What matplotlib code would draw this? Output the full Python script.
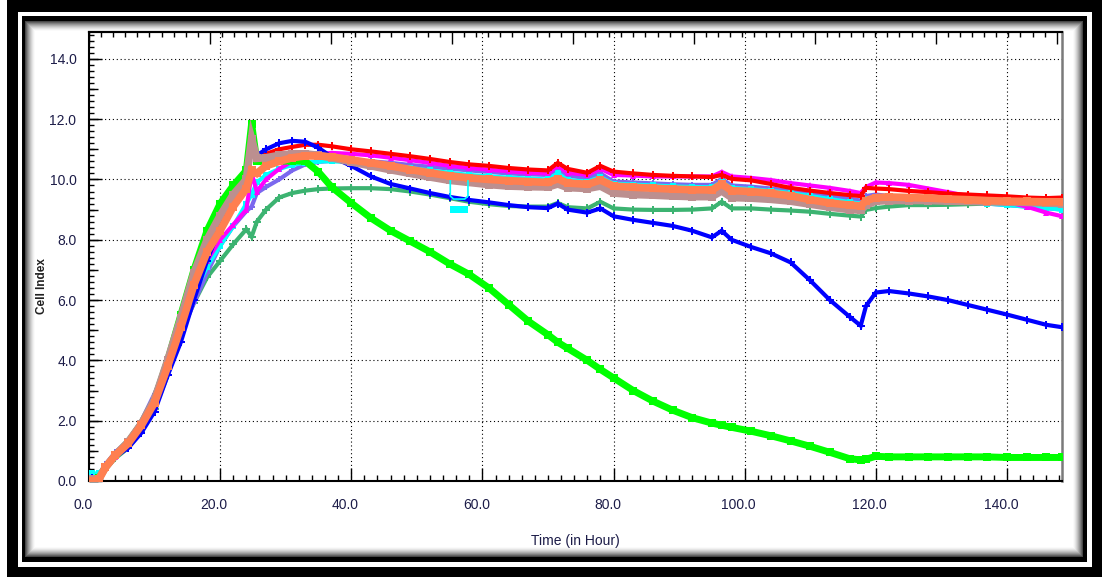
import numpy as np
import matplotlib
matplotlib.use("Agg")
import matplotlib.pyplot as plt
from matplotlib.ticker import MultipleLocator, FormatStrFormatter, NullFormatter, NullLocator
from matplotlib import transforms

# ---------------- data ----------------
hours = [0.5, 1.5, 2.5, 4, 6, 8, 10, 12, 14, 16,
         18, 20, 22, 24, 24.8, 25.6, 27, 29, 31, 33,
         35, 37, 40, 43, 46, 49, 52, 55, 58, 61,
         64, 67, 70, 71.5, 73, 76, 78, 80, 83, 86,
         89, 92, 95, 96.5, 98, 101, 104, 107, 110, 113,
         116, 117.7, 118.5, 120, 122, 125, 128, 131, 134, 137,
         140, 143, 146, 148.4]

ci_seagreen = [0.0, 0.05, 0.4, 0.75, 1.1, 1.65, 2.4, 3.5, 4.9, 5.9,
               6.75, 7.3, 7.85, 8.35, 8.1, 8.6, 9.0, 9.4, 9.55, 9.63,
               9.68, 9.7, 9.71, 9.71, 9.68, 9.6, 9.5, 9.38, 9.26, 9.18,
               9.12, 9.1, 9.1, 9.22, 9.08, 9.04, 9.26, 9.04, 9.0, 8.99,
               8.99, 9.0, 9.04, 9.26, 9.04, 9.04, 9.0, 8.97, 8.93, 8.86,
               8.8, 8.77, 8.99, 9.05, 9.1, 9.15, 9.15, 9.16, 9.18, 9.2,
               9.2, 9.22, 9.24, 9.26]

ci_slate = [0.1, 0.2, 0.55, 0.95, 1.35, 2.0, 2.9, 3.9, 4.9, 5.9,
            6.9, 7.8, 8.45, 8.95, 9.1, 9.55, 9.75, 10.0, 10.3, 10.5,
            10.58, 10.62, 10.63, 10.6, 10.55, 10.48, 10.42, 10.36, 10.3, 10.25,
            10.2, 10.17, 10.15, 10.35, 10.12, 10.05, 10.2, 9.93, 9.9, 9.87,
            9.84, 9.82, 9.82, 10.02, 9.8, 9.76, 9.7, 9.62, 9.52, 9.44,
            9.36, 9.3, 9.45, 9.5, 9.45, 9.4, 9.35, 9.3, 9.25, 9.2,
            9.15, 9.1, 9.05, 9.0]

ci_cyan = [0.25, 0.25, 0.5, 0.9, 1.25, 1.85, 2.6, 3.7, 5.0, 6.2,
           7.1, 7.8, 8.45, 9.2, 9.5, 9.9, 10.15, 10.35, 10.48, 10.56,
           10.6, 10.6, 10.58, 10.52, 10.45, 10.38, 10.3, 10.22, 10.15, 10.1,
           10.06, 10.03, 10.0, 10.2, 9.98, 9.93, 10.08, 9.86, 9.83, 9.8,
           9.77, 9.75, 9.74, 9.92, 9.72, 9.68, 9.62, 9.55, 9.45, 9.35,
           9.25, 9.2, 9.35, 9.42, 9.4, 9.36, 9.32, 9.28, 9.24, 9.2,
           9.15, 9.1, 9.05, 9.0]

ci_magenta = [0.05, 0.12, 0.45, 0.8, 1.15, 1.7, 2.45, 3.6, 5.3, 6.4,
              7.3, 8.0, 8.5, 9.0, 10.2, 9.6, 10.0, 10.35, 10.6, 10.75,
              10.85, 10.88, 10.85, 10.8, 10.72, 10.64, 10.55, 10.45, 10.38, 10.32,
              10.27, 10.22, 10.2, 10.45, 10.22, 10.15, 10.35, 10.15, 10.13, 10.1,
              10.1, 10.1, 10.1, 10.25, 10.1, 10.05, 9.98, 9.88, 9.8, 9.72,
              9.62, 9.55, 9.75, 9.9, 9.88, 9.82, 9.7, 9.58, 9.45, 9.35,
              9.25, 9.1, 8.9, 8.78]

ci_red = [0.05, 0.12, 0.45, 0.85, 1.2, 1.75, 2.5, 3.8, 5.1, 6.4,
          7.6, 8.5, 9.2, 9.8, 11.2, 10.7, 10.85, 11.0, 11.08, 11.15,
          11.15, 11.1, 11.0, 10.93, 10.85, 10.77, 10.68, 10.58, 10.5, 10.45,
          10.38, 10.33, 10.3, 10.55, 10.35, 10.22, 10.45, 10.26, 10.2, 10.15,
          10.12, 10.1, 10.08, 10.15, 10.02, 9.97, 9.85, 9.72, 9.63, 9.55,
          9.48, 9.45, 9.72, 9.7, 9.68, 9.62, 9.58, 9.53, 9.5, 9.47,
          9.44, 9.4, 9.38, 9.4]

ci_blue = [0.1, 0.15, 0.45, 0.8, 1.1, 1.6, 2.3, 3.5, 4.6, 6.0,
           7.3, 8.4, 9.3, 9.9, 11.5, 10.8, 11.0, 11.2, 11.28, 11.25,
           11.05, 10.75, 10.45, 10.1, 9.85, 9.7, 9.55, 9.42, 9.32, 9.24,
           9.15, 9.08, 9.05, 9.2, 9.0, 8.9, 9.04, 8.78, 8.66, 8.56,
           8.46, 8.3, 8.08, 8.3, 8.0, 7.76, 7.55, 7.25, 6.65, 6.0,
           5.45, 5.15, 5.8, 6.25, 6.3, 6.22, 6.12, 6.0, 5.84, 5.68,
           5.52, 5.35, 5.18, 5.1]

ci_green = [0.05, 0.1, 0.45, 0.85, 1.3, 1.9, 2.7, 4.0, 5.5, 7.0,
            8.3, 9.2, 9.8, 10.3, 11.85, 10.6, 10.6, 10.6, 10.62, 10.6,
            10.25, 9.75, 9.22, 8.72, 8.3, 7.95, 7.6, 7.2, 6.85, 6.4,
            5.85, 5.3, 4.85, 4.6, 4.4, 4.0, 3.7, 3.42, 3.0, 2.65,
            2.35, 2.1, 1.92, 1.85, 1.78, 1.65, 1.5, 1.33, 1.15, 0.95,
            0.74, 0.7, 0.72, 0.82, 0.8, 0.8, 0.8, 0.8, 0.8, 0.8,
            0.78, 0.78, 0.78, 0.78]

ci_rosy = [0.05, 0.08, 0.45, 0.85, 1.3, 1.9, 2.7, 4.0, 5.4, 6.9,
           8.0, 8.8, 9.5, 10.0, 11.35, 10.7, 10.72, 10.8, 10.85, 10.85,
           10.8, 10.72, 10.58, 10.45, 10.32, 10.2, 10.08, 9.97, 9.9, 9.83,
           9.78, 9.76, 9.75, 9.85, 9.73, 9.7, 9.78, 9.55, 9.5, 9.48,
           9.45, 9.43, 9.43, 9.62, 9.4, 9.38, 9.34, 9.28, 9.18, 9.08,
           9.0, 8.98, 9.15, 9.28, 9.3, 9.3, 9.3, 9.28, 9.27, 9.26,
           9.25, 9.24, 9.22, 9.2]

ci_coral = [0.0, 0.05, 0.45, 0.85, 1.25, 1.85, 2.6, 3.8, 5.1, 6.5,
            7.6, 8.3, 9.1, 9.7, 10.3, 10.2, 10.45, 10.6, 10.72, 10.78,
            10.78, 10.75, 10.65, 10.55, 10.45, 10.33, 10.22, 10.12, 10.05, 10.0,
            9.96, 9.93, 9.9, 10.02, 9.88, 9.84, 9.98, 9.78, 9.74, 9.71,
            9.68, 9.66, 9.65, 9.85, 9.63, 9.6, 9.54, 9.46, 9.33, 9.22,
            9.15, 9.12, 9.3, 9.4, 9.42, 9.4, 9.38, 9.35, 9.33, 9.3,
            9.28, 9.27, 9.26, 9.26]

# small cyan marker block drawn around 56 h
cyan_box_hours = [55.1, 57.8]
cyan_box_low = [8.9, 8.9]
cyan_box_high = [9.12, 9.12]
cyan_bracket_hours = [55.1, 55.1, 55.6, 57.3, 57.8, 57.8]
cyan_bracket_ci = [9.95, 9.45, 9.35, 9.35, 9.45, 9.95]

x_ticks = [0, 20, 40, 60, 80, 100, 120, 140]
y_ticks = [0, 2, 4, 6, 8, 10, 12, 14]

series = [
    (ci_seagreen, "#3cb371", 3.0, "P", 5.5),
    (ci_slate, "#7b68ee", 3.0, "P", 5.0),
    (ci_cyan, "#00ffff", 3.0, "s", 4.5),
    (ci_magenta, "#ff00ff", 3.0, "^", 5.0),
    (ci_red, "#ff0000", 3.0, "P", 5.5),
    (ci_blue, "#0000ff", 3.0, "P", 5.5),
    (ci_green, "#00ff00", 5.0, "s", 6.0),
    (ci_rosy, "#bc8f8f", 5.5, "s", 6.0),
    (ci_coral, "#ff7f50", 5.5, "s", 6.0),
]

# ---------------- figure & frame ----------------
W, H = 1105, 579
fig = plt.figure(figsize=(W / 100, H / 100), dpi=100)
fig.patch.set_facecolor("white")

frame = np.ones((H, W, 3))
frame[0:577, 7:1102] = 0.0
frame[12:567, 18:1092] = 1.0
frame[16:562, 22:1087] = 0.0
x0, y0, x1, y1 = 25, 21, 1083, 557
frame[y0:y1, x0:x1] = 1.0
yy, xx = np.mgrid[y0:y1, x0:x1]
dist = np.minimum.reduce([yy - y0, xx - x0, (x1 - 1) - xx, (y1 - 1) - yy]).astype(float)
shade = 1.0 - 0.72 * np.clip(1.0 - dist / 10.0, 0, 1) ** 1.6
frame[y0:y1, x0:x1] = shade[..., None]
fig.figimage(frame, xo=0, yo=0, origin="upper", zorder=0)

left_px, right_px, top_px, bottom_px = 89, 1062, 32, 481
ax = fig.add_axes([left_px / W, 1 - bottom_px / H,
                   (right_px - left_px) / W, (bottom_px - top_px) / H])
ax.set_facecolor("white")
ax.set_zorder(2)

for vals, color, lw, mk, ms in series:
    ax.plot(hours, vals, color=color, lw=lw, marker=mk, ms=ms,
            markeredgewidth=0, solid_joinstyle="miter", zorder=3)

ax.fill_between(cyan_box_hours, cyan_box_low, cyan_box_high, color="#00ffff",
                lw=0, zorder=3)
ax.plot(cyan_bracket_hours, cyan_bracket_ci, color="#00ffff", lw=1.2, zorder=3)

ax.set_xlim(0, 148.4)
ax.set_ylim(0, 14.89)

tick_color = "#1c1c48"
tick_font = ["Liberation Sans Narrow", "Liberation Sans", "DejaVu Sans"]
ax.xaxis.set_major_locator(matplotlib.ticker.FixedLocator(x_ticks))
ax.xaxis.set_minor_locator(MultipleLocator(2))
ax.yaxis.set_major_locator(matplotlib.ticker.FixedLocator(y_ticks))
ax.yaxis.set_minor_locator(MultipleLocator(0.2))
ax.xaxis.set_major_formatter(FormatStrFormatter("%.1f"))
ax.yaxis.set_major_formatter(FormatStrFormatter("%.1f"))

ax.tick_params(axis="x", which="major", direction="in", length=9.5, width=1.0,
               top=False, bottom=True, pad=12, labelsize=10, labelcolor=tick_color)
ax.tick_params(axis="x", which="minor", direction="in", length=4.3, width=1.0,
               top=False, bottom=True)
ax.tick_params(axis="y", which="major", direction="in", length=9.5, width=1.0,
               left=True, right=False, pad=9, labelsize=10, labelcolor=tick_color)
ax.tick_params(axis="y", which="minor", direction="in", length=3.6, width=1.0,
               left=True, right=False)

shift = transforms.ScaledTranslation(-6 / 100, 0, fig.dpi_scale_trans)
for lab in ax.get_xticklabels():
    lab.set_transform(lab.get_transform() + shift)

ax.grid(True, which="major", color="black", lw=0.8, linestyle=(0, (1, 2.5)))

for side in ("left", "bottom", "top"):
    ax.spines[side].set_color("black")
    ax.spines[side].set_linewidth(1.5)
ax.spines["right"].set_color("#7a7a7a")
ax.spines["right"].set_linewidth(1.8)

# medium ticks at every whole unit on the left axis
sec_y = ax.secondary_yaxis("left")
sec_y.yaxis.set_major_locator(MultipleLocator(1))
sec_y.yaxis.set_minor_locator(NullLocator())
sec_y.yaxis.set_major_formatter(NullFormatter())
sec_y.tick_params(direction="in", length=6.5, width=1.0)
sec_y.spines["left"].set_visible(False)

# independent tick scale along the top edge
top_scale = 18.45
sec_x = ax.secondary_xaxis("top", functions=(lambda v: v / top_scale,
                                             lambda v: v * top_scale))
sec_x.xaxis.set_major_locator(MultipleLocator(1))
sec_x.xaxis.set_minor_locator(MultipleLocator(0.1))
sec_x.xaxis.set_major_formatter(NullFormatter())
sec_x.tick_params(which="major", direction="in", length=8.5, width=1.0)
sec_x.tick_params(which="minor", direction="in", length=3.6, width=1.0)
sec_x.spines["top"].set_linewidth(1.5)

fig.text(575 / W, 1 - 541 / H, "Time (in Hour)", ha="center", va="center",
         fontsize=10, color=tick_color, family="Liberation Sans", zorder=5)
fig.text(42 / W, 1 - 286 / H, "Cell Index", ha="center", va="center",
         rotation=90, fontsize=8.5, color="#202020", family="Liberation Sans",
         fontweight="bold", zorder=5)

for lab in ax.get_xticklabels() + ax.get_yticklabels():
    lab.set_family(tick_font)

fig.savefig("out.png", dpi=100)
